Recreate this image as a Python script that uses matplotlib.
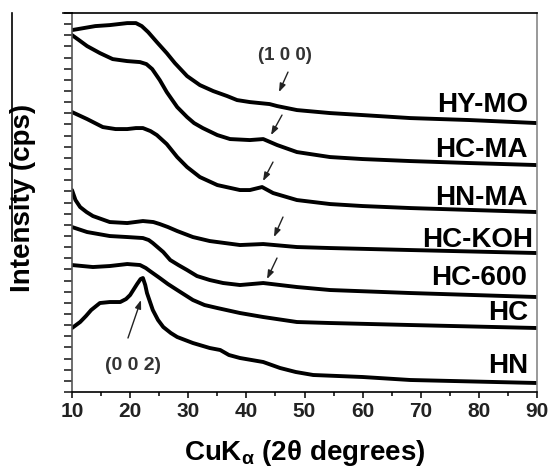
import numpy as np
import matplotlib
matplotlib.use("Agg")
import matplotlib.pyplot as plt
from matplotlib.lines import Line2D

plt.rcParams['font.family'] = ['Liberation Sans', 'DejaVu Sans']
plt.rcParams['mathtext.fontset'] = 'custom'
plt.rcParams['mathtext.rm'] = 'Liberation Sans:bold'
plt.rcParams['mathtext.it'] = 'Liberation Sans:bold'
plt.rcParams['mathtext.bf'] = 'Liberation Sans:bold'

# ---- data (2theta in degrees, intensity in arbitrary stacked units) ----
hymo_x = [10.0, 12.0, 14.0, 16.5, 19.5, 21.0, 22.0, 23.1, 24.6, 26.3, 27.7, 29.8, 32.0, 34.3, 36.7, 38.4, 40.6, 44.0, 45.3, 48.7, 54.4, 60.0, 68.2, 78.5, 90.0]
hymo_y = [362, 364, 366, 367, 369, 369, 366, 360, 350, 339, 329, 316, 307, 301, 296, 292, 290, 288, 286, 282, 279, 277, 274, 272, 269]

hcma_x = [10.0, 11.2, 12.6, 14.8, 17.0, 19.5, 21.7, 22.8, 23.8, 25.1, 26.3, 28.1, 29.8, 31.0, 32.5, 35.0, 37.2, 40.6, 42.9, 45.3, 48.7, 54.4, 60.0, 68.2, 78.5, 90.0]
hcma_y = [357, 352, 346, 339, 333, 331, 330, 328, 323, 312, 300, 285, 275, 269, 264, 257, 253, 252, 253, 247, 240, 235, 233, 231, 229, 227]

hnma_x = [10.0, 12.6, 15.3, 17.5, 19.5, 21.0, 22.2, 23.5, 24.6, 26.3, 28.1, 29.8, 32.0, 35.0, 38.9, 40.6, 42.7, 44.6, 48.7, 54.4, 60.0, 68.2, 90.0]
hnma_y = [280, 273, 265, 263, 263, 264, 264, 261, 257, 248, 235, 225, 215, 207, 202, 202, 205, 199, 192, 188, 186, 184, 180]

hckoh_x = [10.0, 10.6, 11.4, 12.5, 13.6, 16.5, 19.5, 22.2, 24.0, 25.1, 26.5, 28.1, 30.8, 33.7, 38.9, 42.9, 48.7, 54.4, 68.2, 90.0]
hckoh_y = [202, 192, 185, 180, 176, 170, 169, 171, 170, 168, 165, 161, 155, 151, 147, 148, 145, 144, 142, 139]

hc600_x = [10.0, 12.6, 16.5, 19.5, 22.2, 23.2, 23.9, 25.7, 26.9, 28.3, 29.8, 31.5, 33.7, 36.0, 38.9, 42.9, 48.7, 54.4, 68.2, 90.0]
hc600_y = [165, 160, 156, 155, 154, 152, 149, 140, 132, 127, 122, 116, 112, 109, 107, 109, 105, 102, 99, 95]

hc_x = [10.0, 13.6, 16.5, 19.5, 21.7, 22.7, 23.4, 25.1, 26.5, 28.1, 30.8, 32.8, 35.0, 38.9, 42.9, 48.7, 54.4, 68.2, 90.0]
hc_y = [127, 125, 126, 128, 127, 124, 121, 114, 108, 102, 92, 87, 84, 79, 75, 70, 69, 67, 64]

hn_x = [10.0, 11.4, 12.4, 13.3, 14.8, 16.5, 18.3, 19.3, 20.0, 21.2, 21.8, 22.2, 22.6, 22.9, 23.9, 24.8, 25.7, 27.0, 28.1, 30.8, 33.7, 35.5, 37.0, 38.9, 42.9, 45.8, 48.5, 51.5, 60.0, 68.2, 90.0]
hn_y = [64, 70, 76, 82, 89, 90, 90, 93, 97, 108, 113, 114, 107, 99, 82, 72, 65, 59, 55, 49, 44, 42, 37, 34, 30, 24, 20, 17, 15, 12, 9]

series_labels = ['HY-MO', 'HC-MA', 'HN-MA', 'HC-KOH', 'HC-600', 'HC', 'HN']
xticks_major = [10, 20, 30, 40, 50, 60, 70, 80, 90]

# ---- figure ----
fig = plt.figure(figsize=(5.48, 4.70), dpi=100)
ax = fig.add_axes([72/548, 1 - 392/470, (537 - 72)/548, (392 - 13)/470])

series = [(hymo_x, hymo_y), (hcma_x, hcma_y), (hnma_x, hnma_y), (hckoh_x, hckoh_y),
          (hc600_x, hc600_y), (hc_x, hc_y), (hn_x, hn_y)]
for xs, ys in series:
    ax.plot(xs, ys, color='black', lw=2.8, solid_joinstyle='round', solid_capstyle='round')

ax.set_xlim(10, 90)
ax.set_ylim(0, 379)
ax.set_xticks(xticks_major)
ax.set_xticks(np.arange(15, 90, 10), minor=True)
ax.set_yticks(np.arange(0, 380, 11.15))
ax.set_yticklabels([])
ax.tick_params(axis='x', which='major', direction='out', length=4.5, width=1.1, labelsize=15, pad=3)
ax.tick_params(axis='x', which='minor', direction='out', length=3, width=1.1)
ax.tick_params(axis='y', which='major', direction='out', length=5.5, width=1.4, color='#444444')
for lab in ax.get_xticklabels():
    lab.set_fontweight('bold')
    lab.set_color('#222222')

ax.spines['left'].set_color('#555555')
ax.spines['right'].set_color('#888888')
ax.spines['top'].set_color('black')
ax.spines['bottom'].set_color('black')
for s in ax.spines.values():
    s.set_linewidth(1.2)

ax.set_xlabel(r'CuK$_{\alpha}$ (2θ degrees)', fontsize=20, fontweight='bold', labelpad=12)
fig.text(23/548, 1 - 198/470, 'Intensity (cps)', rotation=90, fontsize=20, fontweight='bold',
         ha='center', va='center')

# curve labels
label_pos = [(88.45, 280), (88.45, 235), (88.45, 187), (89.3, 145), (88.3, 107), (88.45, 72), (88.45, 19)]
for name, (lx, ly) in zip(series_labels, label_pos):
    ax.text(lx, ly, name, fontsize=20, fontweight='bold', ha='right', va='baseline')

# peak annotations
ax.text(46.6, 332, '(1 0 0)', fontsize=13.5, fontweight='bold', color='#333333', ha='center', va='baseline')
ax.text(20.5, 22, '(0 0 2)', fontsize=14, fontweight='bold', color='#333333', ha='center', va='baseline')

arrows = [((47.16, 320), (45.61, 300)),
          ((46.13, 277), (44.24, 257)),
          ((44.58, 230), (42.86, 211)),
          ((46.30, 175), (44.75, 155)),
          ((45.27, 134), (43.55, 113)),
          ((19.63, 54), (21.87, 92))]
for (x0, y0), (x1, y1) in arrows:
    ax.annotate('', xy=(x1, y1), xytext=(x0, y0),
                arrowprops=dict(arrowstyle='-|>,head_length=0.5,head_width=0.18',
                                color='#222222', lw=1.0, shrinkA=0, shrinkB=0))

# decorative lines of the original figure
fig.add_artist(Line2D([12/548, 12/548], [1 - 13/470, 1 - 241/470], color='black', lw=1.2))
fig.add_artist(Line2D([63/548, 72/548], [1 - 13/470, 1 - 13/470], color='black', lw=1.2))

fig.savefig('out.png', dpi=100)
